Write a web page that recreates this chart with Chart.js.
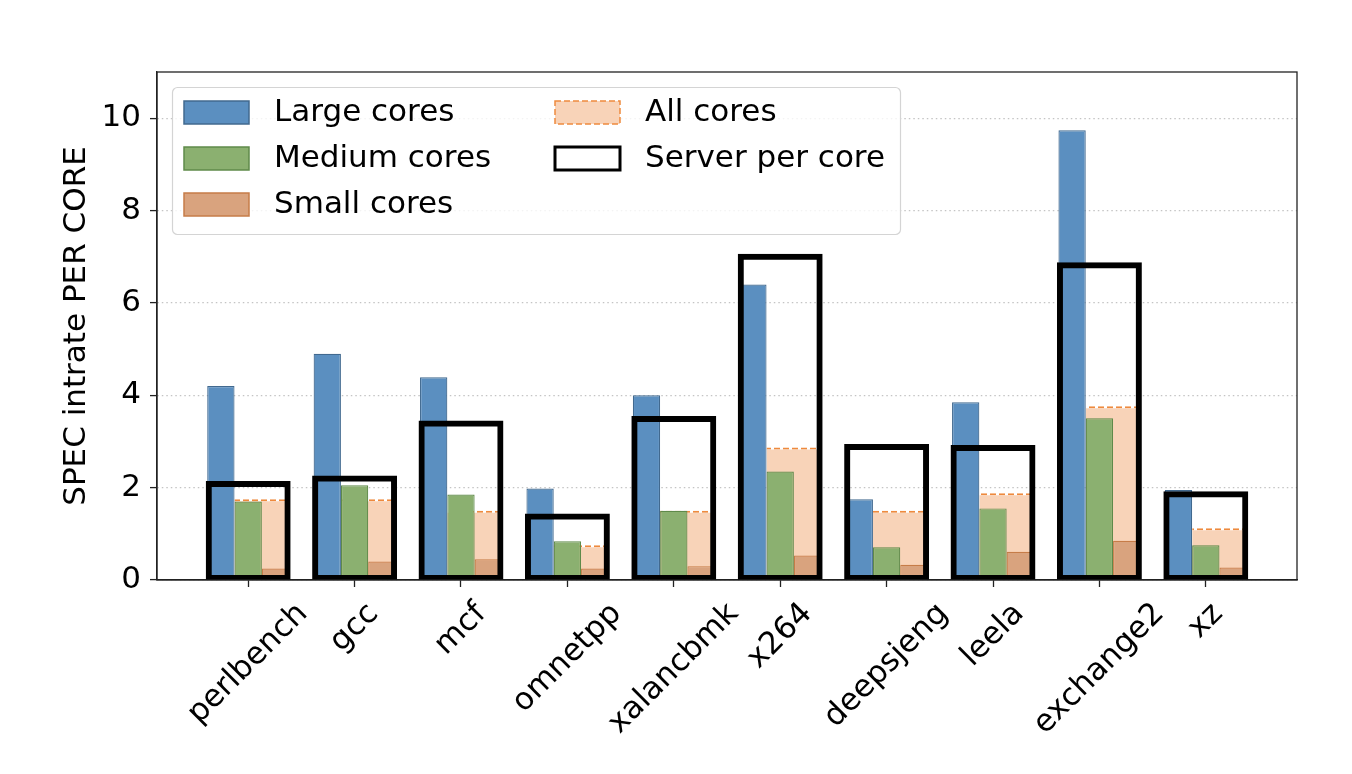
<!DOCTYPE html>
<html lang="en">
<head>
<meta charset="UTF-8">
<title>SPEC intrate per core</title>
<script src="https://cdn.jsdelivr.net/npm/chart.js@4.4.0/dist/chart.umd.min.js"></script>
<style>
  html, body { margin: 0; padding: 0; background: #fff; }
  canvas { display: block; }
</style>
</head>
<body>
<canvas id="chart" width="1352" height="774"></canvas>
<script>
// benchmarks (x axis)
const categories = ['perlbench', 'gcc', 'mcf', 'omnetpp', 'xalancbmk', 'x264', 'deepsjeng', 'leela', 'exchange2', 'xz'];

// SPEC intrate per core
const largeCores  = [4.2, 4.9, 4.39, 1.98, 4.0, 6.4, 1.75, 3.85, 9.74, 1.95];
const mediumCores = [1.7, 2.05, 1.85, 0.84, 1.5, 2.35, 0.71, 1.55, 3.5, 0.75];
const smallCores  = [0.25, 0.4, 0.45, 0.25, 0.3, 0.53, 0.33, 0.61, 0.85, 0.27];
const allCores    = [1.75, 1.75, 1.5, 0.75, 1.5, 2.87, 1.5, 1.88, 3.76, 1.12];
const serverCore  = [2.11, 2.23, 3.42, 1.41, 3.52, 7.03, 2.91, 2.89, 6.85, 1.89];

const yTicks = [0, 2, 4, 6, 8, 10];

const FONT = "'DejaVu Sans', sans-serif";
const FS = 31;
Chart.defaults.font.family = FONT;
Chart.defaults.font.size = FS;
Chart.defaults.color = '#000';

const canvas = document.getElementById('chart');
const ctx = canvas.getContext('2d');

// dashed edge for the "All cores" bars (bar borders are filled, so use a pattern)
function dashPattern(color) {
    const c = document.createElement('canvas');
    c.width = 9; c.height = 4;
    const g = c.getContext('2d');
    g.fillStyle = color;
    g.fillRect(0, 0, 6, 4);
    return ctx.createPattern(c, 'repeat');
}

function points(values) {
    return categories.map((c, i) => ({ x: i, y: values[i] }));
}

// legend inside the axes, two columns like the original
const legendBox = {
    id: 'legendBox',
    afterDraw(chart) {
        const c = chart.ctx;
        const area = chart.chartArea;
        const x0 = area.left + 15, y0 = area.top + 15;
        c.save();
        c.fillStyle = 'rgba(255,255,255,0.8)';
        c.strokeStyle = '#d4d4d4';
        c.lineWidth = 1.2;
        c.beginPath();
        c.roundRect(x0 + 0.5, y0 + 0.5, 728, 147, 5);
        c.fill();
        c.stroke();

        c.font = FS + 'px ' + FONT;
        c.textBaseline = 'middle';
        c.textAlign = 'left';
        chart.data.datasets.forEach((ds, i) => {
            const col = Math.floor(i / 3), row = i % 3;
            const sx = x0 + 12 + col * 371;
            const sy = y0 + 14 + row * 46;
            c.setLineDash(ds.legendDash || []);
            c.fillStyle = ds.backgroundColor;
            c.fillRect(sx, sy, 65, 23);
            c.strokeStyle = ds.legendEdge;
            c.lineWidth = ds.legendWidth;
            c.strokeRect(sx, sy, 65, 23);
            c.setLineDash([]);
            c.fillStyle = '#000';
            c.fillText(ds.label, sx + 90, sy + 12);
        });
        c.restore();
    }
};

// full frame around the plot + rotated category labels centred on the ticks
const frameAndLabels = {
    id: 'frameAndLabels',
    afterDatasetsDraw(chart) {
        const c = chart.ctx;
        const a = chart.chartArea;
        c.save();
        c.strokeStyle = '#222';
        c.lineWidth = 1.3;
        c.strokeRect(a.left, a.top, a.right - a.left, a.bottom - a.top);
        c.restore();
    },
    afterDraw(chart) {
        const c = chart.ctx;
        const x = chart.scales.x;
        c.save();
        c.font = FS + 'px ' + FONT;
        c.fillStyle = '#000';
        c.textAlign = 'center';
        c.textBaseline = 'middle';
        x.ticks.forEach((t, i) => {
            const label = categories[t.value];
            const w = c.measureText(label).width;
            const cx = x.getPixelForTick(i);
            const cy = x.top + 18 + (w + FS) * Math.SQRT1_2 / 2;
            c.save();
            c.translate(cx, cy);
            c.rotate(-Math.PI / 4);
            c.fillText(label, 0, 0);
            c.restore();
        });
        c.restore();
    }
};

new Chart(ctx, {
    type: 'bar',
    data: {
        datasets: [
            {
                label: 'Large cores',
                data: points(largeCores),
                stack: 'L', order: 1,
                backgroundColor: '#5b8fc0', borderColor: '#41698f', borderWidth: 1.2,
                legendEdge: '#41698f', legendWidth: 1.5
            },
            {
                label: 'Medium cores',
                data: points(mediumCores),
                stack: 'M', order: 2,
                backgroundColor: '#8bb070', borderColor: '#5f8a4a', borderWidth: 1.2,
                legendEdge: '#5f8a4a', legendWidth: 1.5
            },
            {
                label: 'Small cores',
                data: points(smallCores),
                stack: 'S', order: 3,
                backgroundColor: '#d9a37e', borderColor: '#c67c48', borderWidth: 1.2,
                legendEdge: '#c67c48', legendWidth: 1.5
            },
            {
                // spans the medium + small slots, sits behind them
                label: 'All cores',
                data: points(allCores),
                stack: 'S', order: 4,
                categoryPercentage: 0.385, barPercentage: 4,
                backgroundColor: '#f8d3b8',
                borderColor: dashPattern('#ee8a3e'),
                borderWidth: { top: 2, right: 0, bottom: 0, left: 0 },
                legendEdge: '#ee8a3e', legendWidth: 1.5, legendDash: [6, 3]
            },
            {
                label: 'Server per core',
                data: points(serverCore),
                grouped: false, order: 0,
                backgroundColor: 'rgba(0,0,0,0)', borderColor: '#000', borderWidth: 3,
                borderSkipped: false, inflateAmount: 1.5,
                legendEdge: '#000', legendWidth: 3
            }
        ]
    },
    options: {
        responsive: false,
        animation: false,
        events: [],
        categoryPercentage: 0.77,
        barPercentage: 1,
        layout: { padding: { left: 0, top: 72, right: 55, bottom: 0 } },
        plugins: {
            legend: { display: false },
            tooltip: { enabled: false }
        },
        scales: {
            x: {
                type: 'linear',
                min: -0.857,
                max: 9.857,
                offset: false,
                afterBuildTicks: s => { s.ticks = categories.map((c, i) => ({ value: i })); },
                afterFit: s => { s.height = 194; },
                ticks: { display: false },
                grid: {
                    offset: false,
                    drawOnChartArea: false,
                    drawTicks: true,
                    tickLength: 7,
                    tickColor: '#222',
                    tickWidth: 1.3
                },
                border: { display: true, color: '#222', width: 1.3 }
            },
            y: {
                min: 0,
                max: 11,
                stacked: false,
                afterBuildTicks: s => { s.ticks = yTicks.map(v => ({ value: v })); },
                afterFit: s => { s.width = 157; },
                ticks: { padding: 9, color: '#000' },
                title: {
                    display: true,
                    text: 'SPEC intrate PER CORE',
                    color: '#000',
                    font: { size: FS },
                    padding: { top: 58, bottom: 0 }
                },
                grid: {
                    color: '#c4c4c4',
                    lineWidth: 1.2,
                    drawTicks: true,
                    tickLength: 7,
                    tickColor: '#222',
                    tickWidth: 1.3,
                    tickBorderDash: []
                },
                border: { display: true, color: '#222', width: 1.3, dash: [1.5, 3] }
            }
        }
    },
    plugins: [frameAndLabels, legendBox]
});
</script>
</body>
</html>
